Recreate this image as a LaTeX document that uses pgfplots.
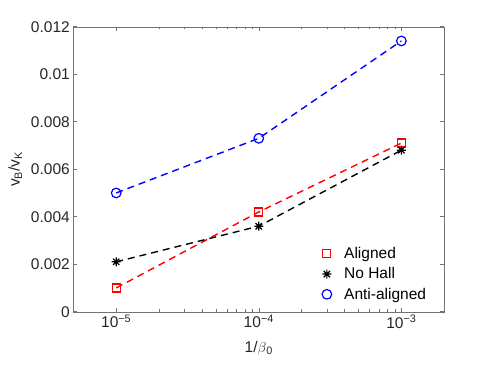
\documentclass[border=0pt]{standalone}
\usepackage{pgfplots}
\pgfplotsset{compat=1.18}
\usepackage{fontspec}
\setmainfont{Liberation Sans}

\definecolor{axgray}{rgb}{0.45,0.45,0.45}
\definecolor{txtgray}{rgb}{0.15,0.15,0.15}

% MATLAB style asterisk: + and x on top of each other
\pgfdeclareplotmark{mstar}{%
  \pgfpathmoveto{\pgfqpoint{-\pgfplotmarksize}{0pt}}%
  \pgfpathlineto{\pgfqpoint{\pgfplotmarksize}{0pt}}%
  \pgfpathmoveto{\pgfqpoint{0pt}{-\pgfplotmarksize}}%
  \pgfpathlineto{\pgfqpoint{0pt}{\pgfplotmarksize}}%
  \pgfpathmoveto{\pgfqpoint{-0.707\pgfplotmarksize}{-0.707\pgfplotmarksize}}%
  \pgfpathlineto{\pgfqpoint{0.707\pgfplotmarksize}{0.707\pgfplotmarksize}}%
  \pgfpathmoveto{\pgfqpoint{-0.707\pgfplotmarksize}{0.707\pgfplotmarksize}}%
  \pgfpathlineto{\pgfqpoint{0.707\pgfplotmarksize}{-0.707\pgfplotmarksize}}%
  \pgfusepathqstroke}

\begin{document}
\begin{tikzpicture}[x=1pt,y=1pt]
\path (-73.3,-56.3) rectangle (417.7,311.7);
\begin{axis}[
    at={(0,0)}, anchor=south west,
    scale only axis,
    width=371pt, height=285pt,
    xmode=log,
    xmin=5e-6, xmax=2e-3,
    ymin=0, ymax=0.012,
    xtick={1e-5,1e-4,1e-3},
    xticklabels={10\textsuperscript{−5},10\textsuperscript{−4},10\textsuperscript{−3}},
    ytick={0,0.002,0.004,0.006,0.008,0.01,0.012},
    yticklabels={0,0.002,0.004,0.006,0.008,0.01,0.012},
    scaled y ticks=false,
    minor y tick num=0,
    tick align=inside,
    major tick length=4pt,
    minor tick length=2.5pt,
    axis line style={axgray},
    every tick/.style={axgray, line width=0.5pt},
    tick label style={font=\fontsize{15.5}{18}\selectfont, text=txtgray},
    label style={font=\fontsize{15.5}{18}\selectfont, text=txtgray},
    xlabel={1/$\beta$\textsubscript{0}},
    ylabel={v\textsubscript{B}/v\textsubscript{K}},
    xlabel style={yshift=-6pt},
    ylabel style={yshift=2pt},
    legend cell align=left,
    legend style={draw=none, fill=none, at={(0.662,0.024)}, anchor=south west,
        font=\fontsize{15.5}{18}\selectfont, row sep=3.5pt,
        /tikz/every odd column/.append style={column sep=10.5pt}},
]
% dashed connecting lines
\addplot[red, line width=1.4pt, dash pattern=on 7pt off 5pt, forget plot]
  coordinates {(1e-5,0.0010) (1e-4,0.0042) (1e-3,0.0071)};
\addplot[black, line width=1.4pt, dash pattern=on 7pt off 5pt, forget plot]
  coordinates {(1e-5,0.0021) (1e-4,0.0036) (1e-3,0.0068)};
\addplot[blue, line width=1.4pt, dash pattern=on 7pt off 5pt, forget plot]
  coordinates {(1e-5,0.0050) (1e-4,0.0073) (1e-3,0.0114)};
% markers
\addplot[only marks, mark=square, mark size=4pt, red, line width=1.2pt]
  coordinates {(1e-5,0.0010) (1e-4,0.0042) (1e-3,0.0071)};
\addplot[only marks, mark=mstar, mark size=4.5pt, black, line width=1.2pt]
  coordinates {(1e-5,0.0021) (1e-4,0.0036) (1e-3,0.0068)};
\addplot[only marks, mark=o, mark size=4.8pt, blue, line width=1.2pt]
  coordinates {(1e-5,0.0050) (1e-4,0.0073) (1e-3,0.0114)};
\legend{Aligned, No Hall, Anti-aligned}
\end{axis}
\end{tikzpicture}
\end{document}
